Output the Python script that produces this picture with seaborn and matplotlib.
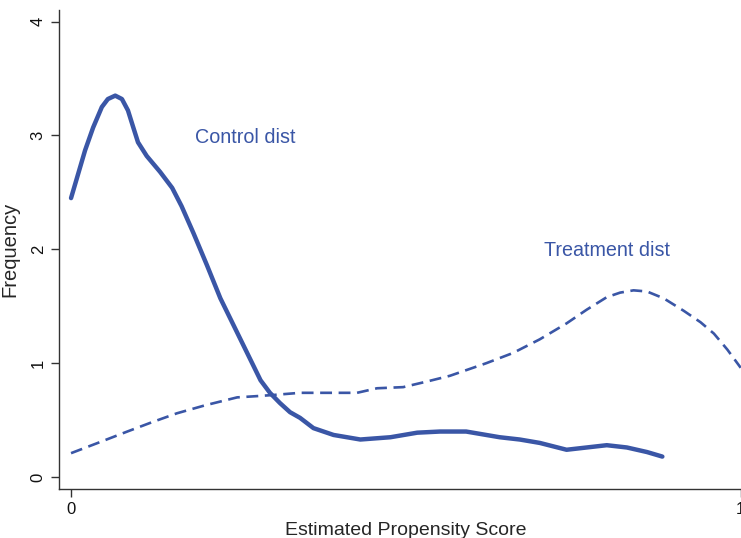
import pandas as pd
import numpy as np
import matplotlib.pyplot as plt
import seaborn as sns

# -------------------- Data --------------------
control_x = [0.0, 0.011, 0.021, 0.033, 0.046, 0.055, 0.066, 0.076, 0.085, 0.093,
             0.10, 0.113, 0.133, 0.151, 0.165, 0.183, 0.203, 0.223, 0.243, 0.268,
             0.283, 0.297, 0.312, 0.327, 0.342, 0.362, 0.392, 0.432, 0.477, 0.517,
             0.551, 0.59, 0.62, 0.64, 0.67, 0.70, 0.72, 0.74, 0.77, 0.80, 0.83,
             0.86, 0.883]
control_y = [2.45, 2.67, 2.87, 3.07, 3.25, 3.32, 3.35, 3.32, 3.22, 3.07,
             2.94, 2.82, 2.68, 2.54, 2.38, 2.14, 1.86, 1.57, 1.33, 1.03,
             0.85, 0.74, 0.65, 0.57, 0.52, 0.43, 0.37, 0.33, 0.35, 0.39,
             0.40, 0.40, 0.37, 0.35, 0.33, 0.30, 0.27, 0.24, 0.26, 0.28, 0.26,
             0.22, 0.18]

treat_x = [0.0, 0.04, 0.084, 0.12, 0.158, 0.20, 0.248, 0.275, 0.30, 0.342, 0.427,
           0.457, 0.496, 0.532, 0.566, 0.62, 0.66, 0.70, 0.74, 0.77, 0.80, 0.82,
           0.84, 0.86, 0.885, 0.915, 0.94, 0.96, 0.98, 1.0]
treat_y = [0.21, 0.30, 0.40, 0.48, 0.56, 0.63, 0.70, 0.71, 0.72, 0.74, 0.74,
           0.78, 0.79, 0.84, 0.89, 1.00, 1.09, 1.21, 1.35, 1.47, 1.58, 1.62,
           1.64, 1.63, 1.57, 1.46, 1.36, 1.26, 1.12, 0.96]

blue = '#3A56A6'

df_c = pd.DataFrame({'score': control_x, 'freq': control_y})
df_t = pd.DataFrame({'score': treat_x, 'freq': treat_y})

# -------------------- Figure --------------------
sns.set_style('ticks')
plt.rcParams['font.family'] = ['Liberation Sans', 'DejaVu Sans']

fig = plt.figure(figsize=(7.41, 5.38), dpi=100)
ax = fig.add_axes([0.0796, 0.091, 0.92, 0.89])

sns.lineplot(data=df_c, x='score', y='freq', ax=ax, color=blue, linewidth=3.2,
             solid_capstyle='round', solid_joinstyle='round')
sns.lineplot(data=df_t, x='score', y='freq', ax=ax, color=blue, linewidth=1.9,
             linestyle=(0, (4.5, 2.5)))

ax.text(0.26, 2.98, 'Control dist', color=blue, fontsize=14.2, ha='center', va='center')
ax.text(0.80, 1.99, 'Treatment dist', color=blue, fontsize=14.2, ha='center', va='center')

ax.set_xlim(-0.018, 1.0)
ax.set_ylim(-0.105, 4.1)
ax.set_xticks([0, 1])
ax.set_xticklabels(['0', '1'])
ax.set_yticks([0, 1, 2, 3, 4])
ax.set_yticklabels(['0', '1', '2', '3', '4'], rotation=90, va='center')
ax.tick_params(axis='both', labelsize=12, length=6, width=1, color='#333333',
               labelcolor='#111111')
ax.set_xlabel('Estimated Propensity Score', fontsize=14)
ax.xaxis.set_label_coords(0.508, -0.068)
ax.set_ylabel('Frequency', fontsize=14.5, labelpad=8)

for s in ['top', 'right']:
    ax.spines[s].set_visible(False)
for s in ['left', 'bottom']:
    ax.spines[s].set_color('#333333')
    ax.spines[s].set_linewidth(1)

fig.savefig('out.png', dpi=100)
